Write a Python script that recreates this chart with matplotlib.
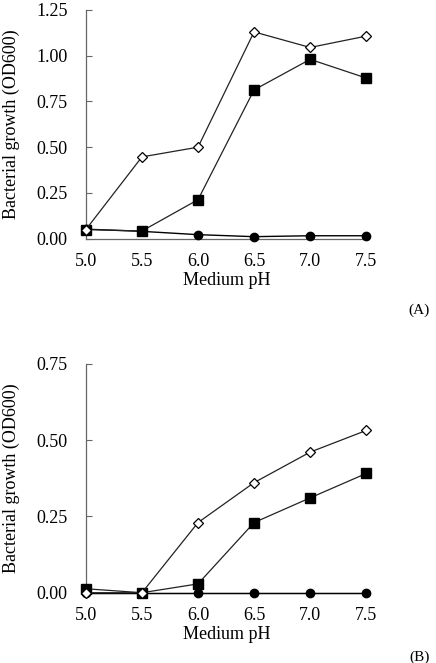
import matplotlib
matplotlib.use("Agg")
import matplotlib.pyplot as plt

ph = [5.0, 5.5, 6.0, 6.5, 7.0, 7.5]

# panel A
a_diamond = [0.05, 0.447, 0.50, 1.13, 1.045, 1.107]
a_square = [0.05, 0.042, 0.213, 0.813, 0.98, 0.878]
a_circle = [0.052, 0.04, 0.022, 0.011, 0.016, 0.016]

# panel B
b_diamond = [0.0, 0.0, 0.23, 0.361, 0.461, 0.532]
b_square = [0.013, 0.0, 0.029, 0.23, 0.311, 0.391]
b_circle = [0.0, 0.0, 0.0, 0.0, 0.0, 0.0]

plt.rcParams['font.family'] = ['Liberation Serif', 'DejaVu Serif']
plt.rcParams['font.size'] = 13

fig = plt.figure(figsize=(4.36, 6.63), dpi=100)
ax_a = fig.add_axes([0.197, 0.640, 0.648, 0.345])
ax_b = fig.add_axes([0.197, 0.106, 0.648, 0.345])


def draw_panel(ax, diamond, square, circle, ymax, yticks):
    ax.plot(ph, circle, color="black", lw=1.0, marker="o", ms=6,
            mfc="black", mec="black", zorder=3)
    ax.plot(ph, square, color="#222222", lw=0.9, marker="s", ms=7,
            mfc="black", mec="black", zorder=4)
    ax.plot(ph, diamond, color="#222222", lw=0.9, marker="D", ms=5,
            mfc="white", mec="black", mew=0.9, zorder=5)
    ax.set_xlim(5.0, 7.52)
    ax.set_ylim(0, ymax)
    ax.set_xticks(ph)
    ax.set_xticklabels([f"{v:.1f}" for v in ph])
    ax.set_yticks(yticks)
    ax.set_yticklabels([f"{v:.2f}" for v in yticks])
    for s in ["top", "right"]:
        ax.spines[s].set_visible(False)
    for s in ["left", "bottom"]:
        ax.spines[s].set_color("#666666")
        ax.spines[s].set_linewidth(0.9)
    ax.tick_params(axis="y", direction="in", length=4, color="#666666", pad=13)
    ax.tick_params(axis="x", length=0, pad=10)
    ax.set_xlabel("Medium pH", labelpad=2)
    ax.set_ylabel("Bacterial growth (OD600)", labelpad=12)
    for line in ax.lines:
        line.set_clip_on(False)


draw_panel(ax_a, a_diamond, a_square, a_circle, 1.25, [0.0, 0.25, 0.5, 0.75, 1.0, 1.25])
draw_panel(ax_b, b_diamond, b_square, b_circle, 0.75, [0.0, 0.25, 0.5, 0.75])

fig.text(0.985, 1 - 310 / 663, "(A)", ha="right", va="center", fontsize=11)
fig.text(0.985, 1 - 657 / 663, "(B)", ha="right", va="center", fontsize=11)

fig.savefig("out.png", dpi=100)
